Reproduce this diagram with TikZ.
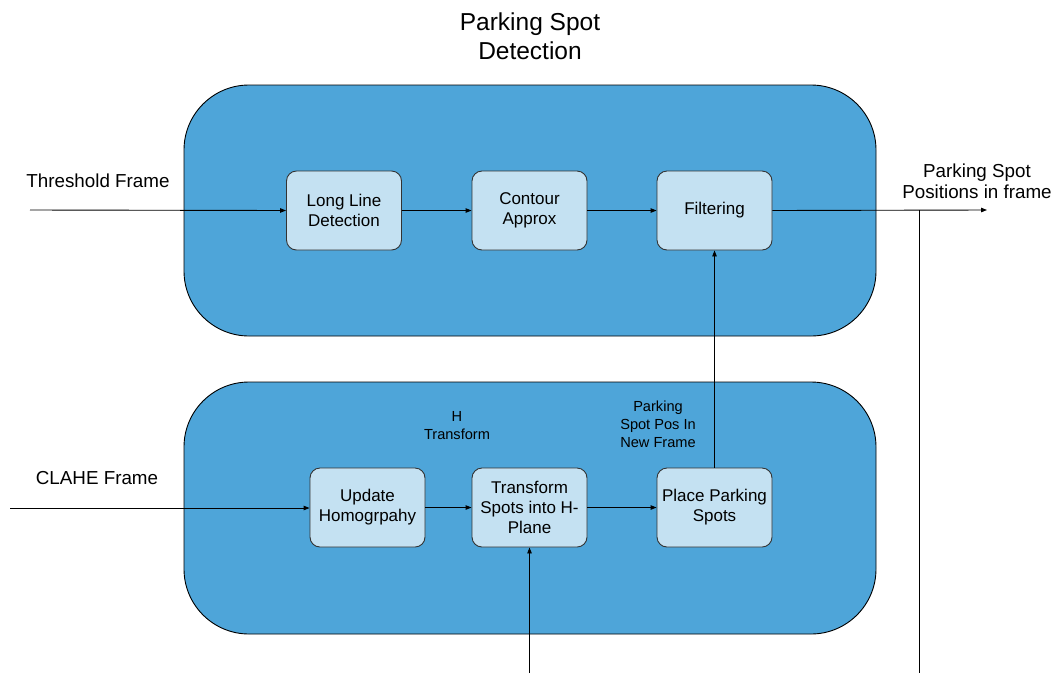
\documentclass[tikz,border=0pt]{standalone}
\usepackage{fontspec}
\setmainfont{Liberation Sans}
\usetikzlibrary{arrows.meta}
\definecolor{bigblue}{RGB}{78,165,217}
\definecolor{lightblue}{RGB}{196,225,242}
\begin{document}
\begin{tikzpicture}[x=1pt,y=-1pt,
  bigbox/.style={draw=black,line width=0.9pt,fill=bigblue,rounded corners=65pt},
  procbox/.style={draw=black!80,line width=0.9pt,fill=lightblue,rounded corners=10pt,
    minimum width=115pt,minimum height=79pt,align=center,font=\fontsize{17}{20}\selectfont,inner sep=2pt},
  conn/.style={line width=0.9pt,-{Triangle[length=6pt,width=4.5pt]}},
  plain/.style={line width=0.9pt},
  bigtext/.style={align=center,font=\fontsize{18.8}{21}\selectfont},
  smalltext/.style={align=center,font=\fontsize{14.6}{18}\selectfont}]
\useasboundingbox (0,0) rectangle (1057,673);
% title
\node[align=center,font=\fontsize{24.5}{29.5}\selectfont] (title) at (530,36) {Parking Spot\\Detection};
% big boxes
\draw[bigbox] (184,85) rectangle (876,336);
\draw[bigbox] (184,382) rectangle (876,634);
% process boxes
\node[procbox] (lld) at (344,210.5) {Long Line\\Detection};
\node[procbox] (ca) at (529.5,210.5) {Contour\\Approx};
\node[procbox] (filt) at (714.5,210.5) {Filtering};
\node[procbox] (uh) at (367.5,507.5) {Update\\Homogrpahy};
\node[procbox] (ts) at (529.5,507.5) {Transform\\Spots into H-\\Plane};
\node[procbox] (pps) at (714.5,507.5) {Place Parking\\Spots};
% labels
\node[bigtext] (thr) at (98,181) {Threshold Frame};
\node[bigtext] (clahe) at (97,478) {CLAHE Frame};
\node[bigtext] (out) at (977,181) {Parking Spot\\Positions in frame};
\node[smalltext] (ht) at (457,425.5) {H\\Transform};
\node[smalltext] (psp) at (658,424) {Parking\\Spot Pos In\\New Frame};
% coordinates
\coordinate (thrin) at (30,210);
\coordinate (clahein) at (10,508);
\coordinate (outend) at (987,210);
\coordinate (split) at (919,210);
\coordinate (splitend) at (919,673);
\coordinate (hin) at (529.5,673);
% connectors
\draw[conn] (thrin) -- (lld.west);
\draw[conn] (lld) -- (ca);
\draw[conn] (ca) -- (filt);
\draw[conn] (filt.east) -- (outend);
\draw[plain] (split) -- (splitend);
\draw[conn] (clahein) -- (uh.west |- clahein);
\draw[conn] (uh) -- (ts);
\draw[conn] (ts) -- (pps);
\draw[conn] (pps) -- (filt);
\draw[conn] (hin) -- (ts.south);
\end{tikzpicture}
\end{document}
